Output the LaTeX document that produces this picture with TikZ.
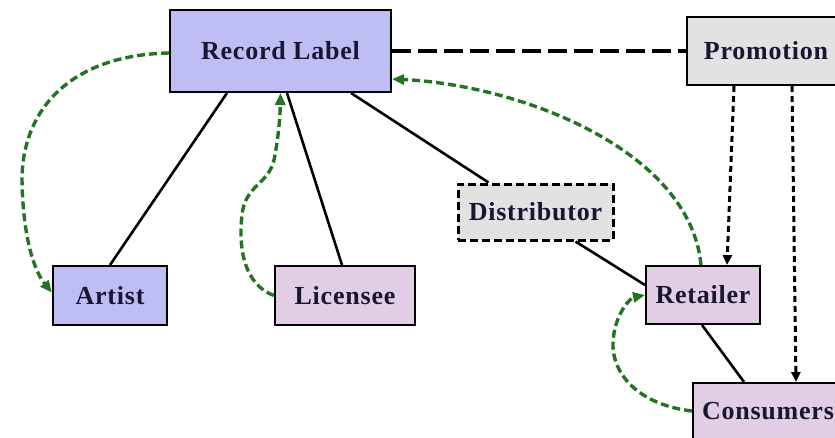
\documentclass[tikz,border=0pt]{standalone}
\usepackage{fontspec}
\setmainfont{Liberation Serif}
\newfontfamily\labelfont[LetterSpace=3]{Liberation Serif}
\usetikzlibrary{arrows.meta,calc}
\definecolor{lav}{RGB}{190,190,245}
\definecolor{mauve}{RGB}{226,206,228}
\definecolor{pale}{RGB}{226,226,226}
\definecolor{flow}{RGB}{35,115,35}
\definecolor{ink}{RGB}{25,22,50}
\tikzset{
  box/.style={draw=black, line width=2pt, inner sep=0pt, text=ink,
    font=\labelfont\fontsize{26}{30}\selectfont\bfseries},
  link/.style={line width=2.6pt, black},
  feedback/.style={draw=flow, line width=3.4pt, dash pattern=on 8pt off 4pt,
    -{Triangle[length=12pt,width=10pt]}},
  push/.style={line width=3pt, black, dash pattern=on 6pt off 4pt,
    -{Triangle[length=10pt,width=9pt]}}
}
\begin{document}
\begin{tikzpicture}[x=1pt,y=-1pt]
  \useasboundingbox (0,0) rectangle (835,437);
  \clip (0,0) rectangle (835,437);

  % boxes
  \node[box, fill=lav, minimum width=221pt, minimum height=82pt] (rl) at (280.5,51) {Record Label};
  \node[box, fill=pale, minimum width=158pt, minimum height=68pt] (promo) at (766,51) {Promotion};
  \node[box, fill=pale, minimum width=155pt, minimum height=56pt, line width=3pt,
        dash pattern=on 8pt off 4pt] (dist) at (535.5,212) {Distributor};
  \node[box, fill=lav, minimum width=114pt, minimum height=59pt] (artist) at (110,295.5) {Artist};
  \node[box, fill=mauve, minimum width=140pt, minimum height=59pt] (lic) at (345,295.5) {Licensee};
  \node[box, fill=mauve, minimum width=114pt, minimum height=58pt] (ret) at (703,295) {Retailer};
  \node[box, fill=mauve, minimum width=150pt, minimum height=56pt] (cons) at (768,411) {Consumers};

  % solid relations
  \draw[link] ($(rl.south west)+(58,0)$) -- (artist.north);
  \draw[link] ($(rl.south west)+(118,0)$) -- ($(lic.north west)+(68,0)$);
  \draw[link] ($(rl.south west)+(182,0)$) -- ($(dist.north west)+(32,0)$);
  \draw[link] ($(dist.south west)+(119,0)$) -- ($(ret.west)+(0,-10)$);
  \draw[link] ($(ret.south west)+(57,0)$) -- ($(cons.north west)+(52,0)$);

  % promotion links
  \draw[line width=4.5pt, black, dash pattern=on 19pt off 7pt] (rl.east) -- (promo.west);
  \draw[push] ($(promo.south west)+(48,0)$) -- ($(ret.north west)+(82,0)$);
  \draw[push] ($(promo.south west)+(106,0)$) -- ($(cons.north west)+(104,0)$);

  % money / feedback flows
  \draw[feedback] ($(rl.west)+(0,2)$) .. controls (70,55) and (22,110) .. (22,180)
        .. controls (23,240) and (35,272) .. ($(artist.west)+(0,-3)$);
  \draw[feedback] (lic.west) .. controls (245,285) and (238,250) .. (242,215)
        .. controls (245,185) and (268,185) .. (274,160)
        .. controls (278,140) and (280,120) .. (rl.south);
  \draw[feedback] ($(ret.north west)+(56,0)$) .. controls (690,150) and (520,85) .. ($(rl.east)+(0,28)$);
  \draw[feedback] (cons.west) .. controls (640,405) and (612,375) .. (613,343)
        .. controls (614,315) and (630,298) .. (ret.west);
\end{tikzpicture}
\end{document}
